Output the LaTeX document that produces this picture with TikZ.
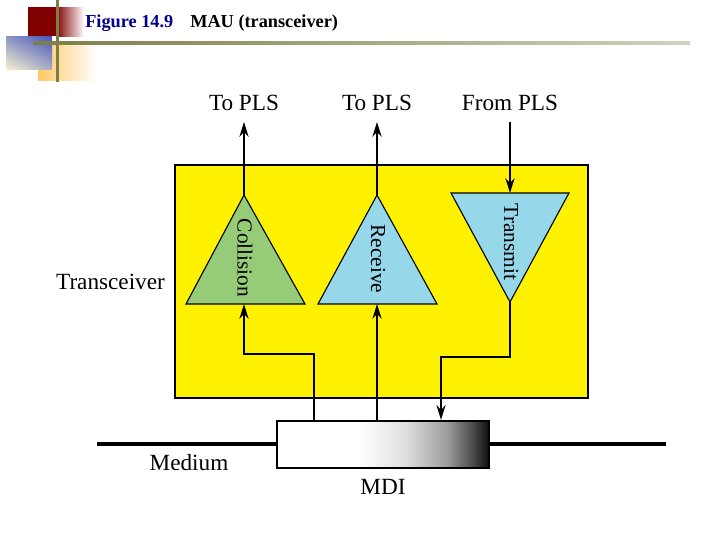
\documentclass[tikz,border=0pt]{standalone}
\usepackage{fontspec}
\setmainfont{Liberation Serif}
\usepackage{tikz}
\usetikzlibrary{arrows.meta, positioning, shadings}

\definecolor{titleblue}{RGB}{0,0,140}
\definecolor{headred}{RGB}{128,0,0}
\definecolor{headorange}{RGB}{255,200,100}
\definecolor{headblue}{RGB}{70,85,190}
\definecolor{headpale}{RGB}{245,240,205}
\definecolor{barolive}{RGB}{125,125,70}
\definecolor{colgreen}{RGB}{150,204,120}
\definecolor{ampblue}{RGB}{150,216,234}

\pgfdeclarehorizontalshading{mdishade}{100bp}{color(0bp)=(white); color(44bp)=(white);
  color(55bp)=(white!88!black); color(65bp)=(white!62!black); color(71bp)=(white!30!black);
  color(75bp)=(black!95!white); color(100bp)=(black)}

\begin{document}
\begin{tikzpicture}[x=0.025cm, y=-0.025cm, >=Stealth,
  lbl/.style={font=\fontsize{16.5}{18}\selectfont, inner sep=1pt},
  amplbl/.style={font=\fontsize{15.2}{17}\selectfont, rotate=-90, inner sep=0pt},
  wire/.style={line width=1.4pt},
  arr/.style={wire, -{Stealth[length=10.5pt, width=6.5pt]}},
  amp/.style={draw, line width=0.8pt, line join=miter}]
\useasboundingbox (0,0) rectangle (720,540);

% slide heading
\shade[left color=headorange, right color=white] (38,43) rectangle (97,80);
\fill[headred] (28,7) rectangle (56,36);
\shade[left color=headred, right color=white] (56,7) rectangle (84,36);
\shade[upper left=headblue!60!headpale, upper right=headblue, lower left=headpale,
  lower right=headblue!45!headpale] (6,36) rectangle (52,69);
\fill[barolive] (55.5,0) rectangle (58.5,82);
\shade[left color=barolive, right color=barolive!35!white] (33,41.5) rectangle (690,44.5);
\node (fig) [anchor=base west, inner sep=0pt, text=titleblue,
  font=\bfseries\fontsize{13}{15}\selectfont] at (85,27) {Figure 14.9};
\node (caption) [anchor=base west, inner sep=0pt,
  font=\bfseries\fontsize{13}{15}\selectfont] at (190,27) {MAU (transceiver)};

% transceiver box
\node (box) [draw, fill=yellow, line width=1pt, inner sep=0pt,
  minimum width=10.325cm, minimum height=5.825cm] at (381.5,281.5) {};
\node (xcvr) [lbl, left=5.5pt of box.west] {Transceiver};

% amplifiers
\coordinate (colTop) at (244,195);
\coordinate (colL) at (186,304);
\coordinate (colR) at (305,304);
\coordinate (recTop) at (377,195);
\coordinate (recL) at (318,304);
\coordinate (recR) at (437,304);
\coordinate (trnL) at (451,193);
\coordinate (trnR) at (569,193);
\coordinate (trnApex) at (510,302);
\filldraw[amp, fill=colgreen] (colTop) -- (colR) -- (colL) -- cycle;
\filldraw[amp, fill=ampblue] (recTop) -- (recR) -- (recL) -- cycle;
\filldraw[amp, fill=ampblue] (trnL) -- (trnR) -- (trnApex) -- cycle;
\node (colTxt) [amplbl] at (245,258) {Collision};
\node (recTxt) [amplbl] at (378,259) {Receive};
\node (trnTxt) [amplbl] at (511,242) {Transmit};

% medium and MDI
\coordinate (medL) at (97,444);
\coordinate (medR) at (666,444);
\draw[line width=3.2pt] (medL) -- (medR);
\node (mdi) [draw, line width=1.6pt, shading=mdishade, inner sep=0pt,
  minimum width=5.3cm, minimum height=1.175cm] at (383,444.5) {};
\node (medium) [lbl] at (189,463) {Medium};
\node (mdiTxt) [lbl, below=6pt of mdi] {MDI};

% to and from PLS
\coordinate (colOut) at (244,122);
\coordinate (recOut) at (377,122);
\coordinate (trnIn) at (510,122);
\draw[arr] (colTop) -- (colOut);
\draw[arr] (recTop) -- (recOut);
\draw[arr] (trnIn) -- (trnL -| trnIn);
\node (plsA) [lbl, above=6.5pt of colOut] {To PLS};
\node (plsB) [lbl, above=6.5pt of recOut] {To PLS};
\node (plsC) [lbl, above=6.5pt of trnIn] {From PLS};

% links to the MDI
\coordinate (colFoot) at (314,0);
\coordinate (trnFoot) at (441,0);
\draw[arr] (mdi.north -| colFoot) -- ++(0,-66) -| (colL -| colTop);
\draw[arr] (mdi.north -| recTop) -- (recL -| recTop);
\draw[arr] (trnApex) -- ++(0,55) -| (mdi.north -| trnFoot);
\end{tikzpicture}
\end{document}
